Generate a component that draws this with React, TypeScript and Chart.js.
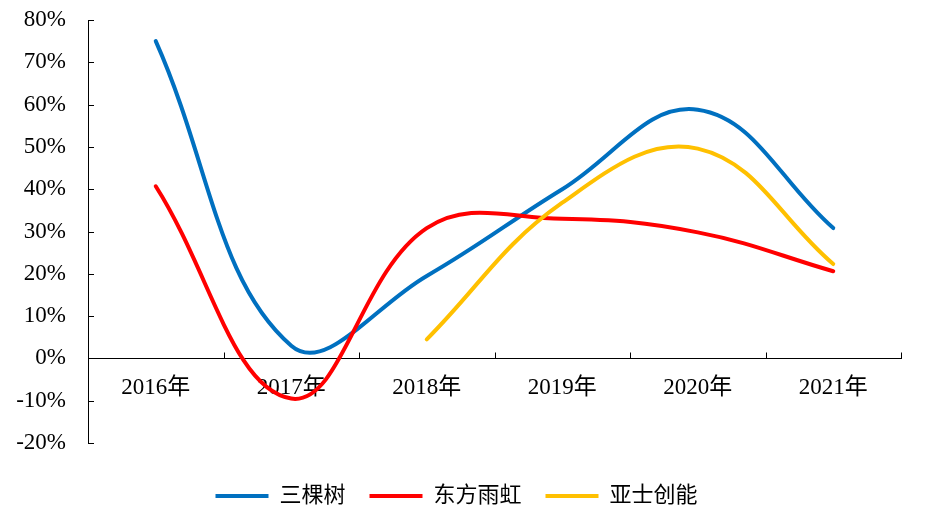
import React, { useEffect, useRef } from "react";
import { Chart, registerables } from "chart.js";

Chart.register(...registerables);

const categories = ["2016年", "2017年", "2018年", "2019年", "2020年", "2021年"];
const sankeshu = [75, 3, 19.5, 40, 58.8, 30.8];
const dongfang = [40.7, -9.5, 30.8, 33, 29.8, 20.6];
const yashi = [null, null, 4.5, 36.8, 49.6, 22.3];
const seriesNames = ["三棵树", "东方雨虹", "亚士创能"];
const seriesColors = ["#0070C0", "#FF0000", "#FFC000"];
const yTickMin = -20;
const yTickMax = 80;
const yTickStep = 10;

const FONT = "'Liberation Serif', 'Times New Roman', 'Noto Sans CJK SC', serif";

const innerTicks = {
  id: "innerTicks",
  afterDatasetsDraw(chart: any) {
    const { ctx, scales } = chart;
    const x = scales.x;
    const y = scales.y;
    ctx.save();
    ctx.strokeStyle = "#000";
    ctx.lineWidth = 1;
    ctx.beginPath();
    y.ticks.forEach((_: any, i: number) => {
      const py = Math.round(y.getPixelForTick(i)) + 0.5;
      ctx.moveTo(y.right, py);
      ctx.lineTo(y.right + 6, py);
    });
    const y0 = Math.round(y.getPixelForValue(0)) + 0.5;
    const n = x.ticks.length;
    for (let i = 1; i <= n; i++) {
      const px = Math.round(x.left + (x.width * i) / n) + 0.5;
      ctx.moveTo(px, y0);
      ctx.lineTo(px, y0 - 6);
    }
    ctx.stroke();
    ctx.restore();
  },
};

export default function App() {
  const ref = useRef<HTMLCanvasElement>(null);
  useEffect(() => {
    document.body.style.margin = "0";
    const mk = (data: (number | null)[], i: number, order: number) => ({
      label: seriesNames[i],
      data,
      borderColor: seriesColors[i],
      backgroundColor: seriesColors[i],
      borderWidth: 4,
      borderCapStyle: "round" as const,
      pointRadius: 0,
      tension: 0.4,
      fill: false,
      order,
    });
    const chart = new Chart(ref.current!, {
      type: "line",
      data: {
        labels: categories,
        datasets: [mk(sankeshu, 0, 3), mk(dongfang, 1, 2), mk(yashi, 2, 1)],
      },
      plugins: [innerTicks],
      options: {
        animation: false,
        responsive: false,
        maintainAspectRatio: false,
        layout: { padding: { top: 20, right: 26, left: 12, bottom: 10 } },
        plugins: {
          tooltip: { enabled: false },
          legend: {
            position: "bottom",
            title: { display: true, text: "", padding: { top: 4, bottom: 4 }, font: { size: 10, lineHeight: 1 } },
            labels: {
              color: "#000",
              boxWidth: 53,
              boxHeight: 4,
              padding: 24,
              font: { family: FONT, size: 22 },
              generateLabels: (c: any) =>
                c.data.datasets.map((d: any, i: number) => ({
                  text: d.label,
                  fillStyle: d.borderColor,
                  strokeStyle: d.borderColor,
                  lineWidth: 0,
                  hidden: false,
                  datasetIndex: i,
                  fontColor: "#000",
                })),
            },
          },
        },
        scales: {
          x: {
            position: { y: 0 } as any,
            offset: true,
            grid: { display: false, drawTicks: false },
            border: { display: true, color: "#000", width: 1 },
            ticks: { color: "#000", padding: 16, font: { family: FONT, size: 23 }, maxRotation: 0 },
          },
          y: {
            min: yTickMin,
            max: yTickMax,
            afterFit: (s: any) => {
              s.width = 76;
              s.paddingTop = 0;
              s.paddingBottom = 0;
            },
            grid: { display: false, drawTicks: false },
            border: { display: true, color: "#000", width: 1 },
            ticks: {
              stepSize: yTickStep,
              color: "#000",
              padding: 22,
              font: { family: FONT, size: 23 },
              callback: (v: any) => `${v}%`,
            },
          },
        },
      },
    });
    return () => chart.destroy();
  }, []);
  return (
    <div style={{ width: 927, height: 527 }}>
      <canvas ref={ref} width={927} height={527} style={{ width: 927, height: 527 }} />
    </div>
  );
}
